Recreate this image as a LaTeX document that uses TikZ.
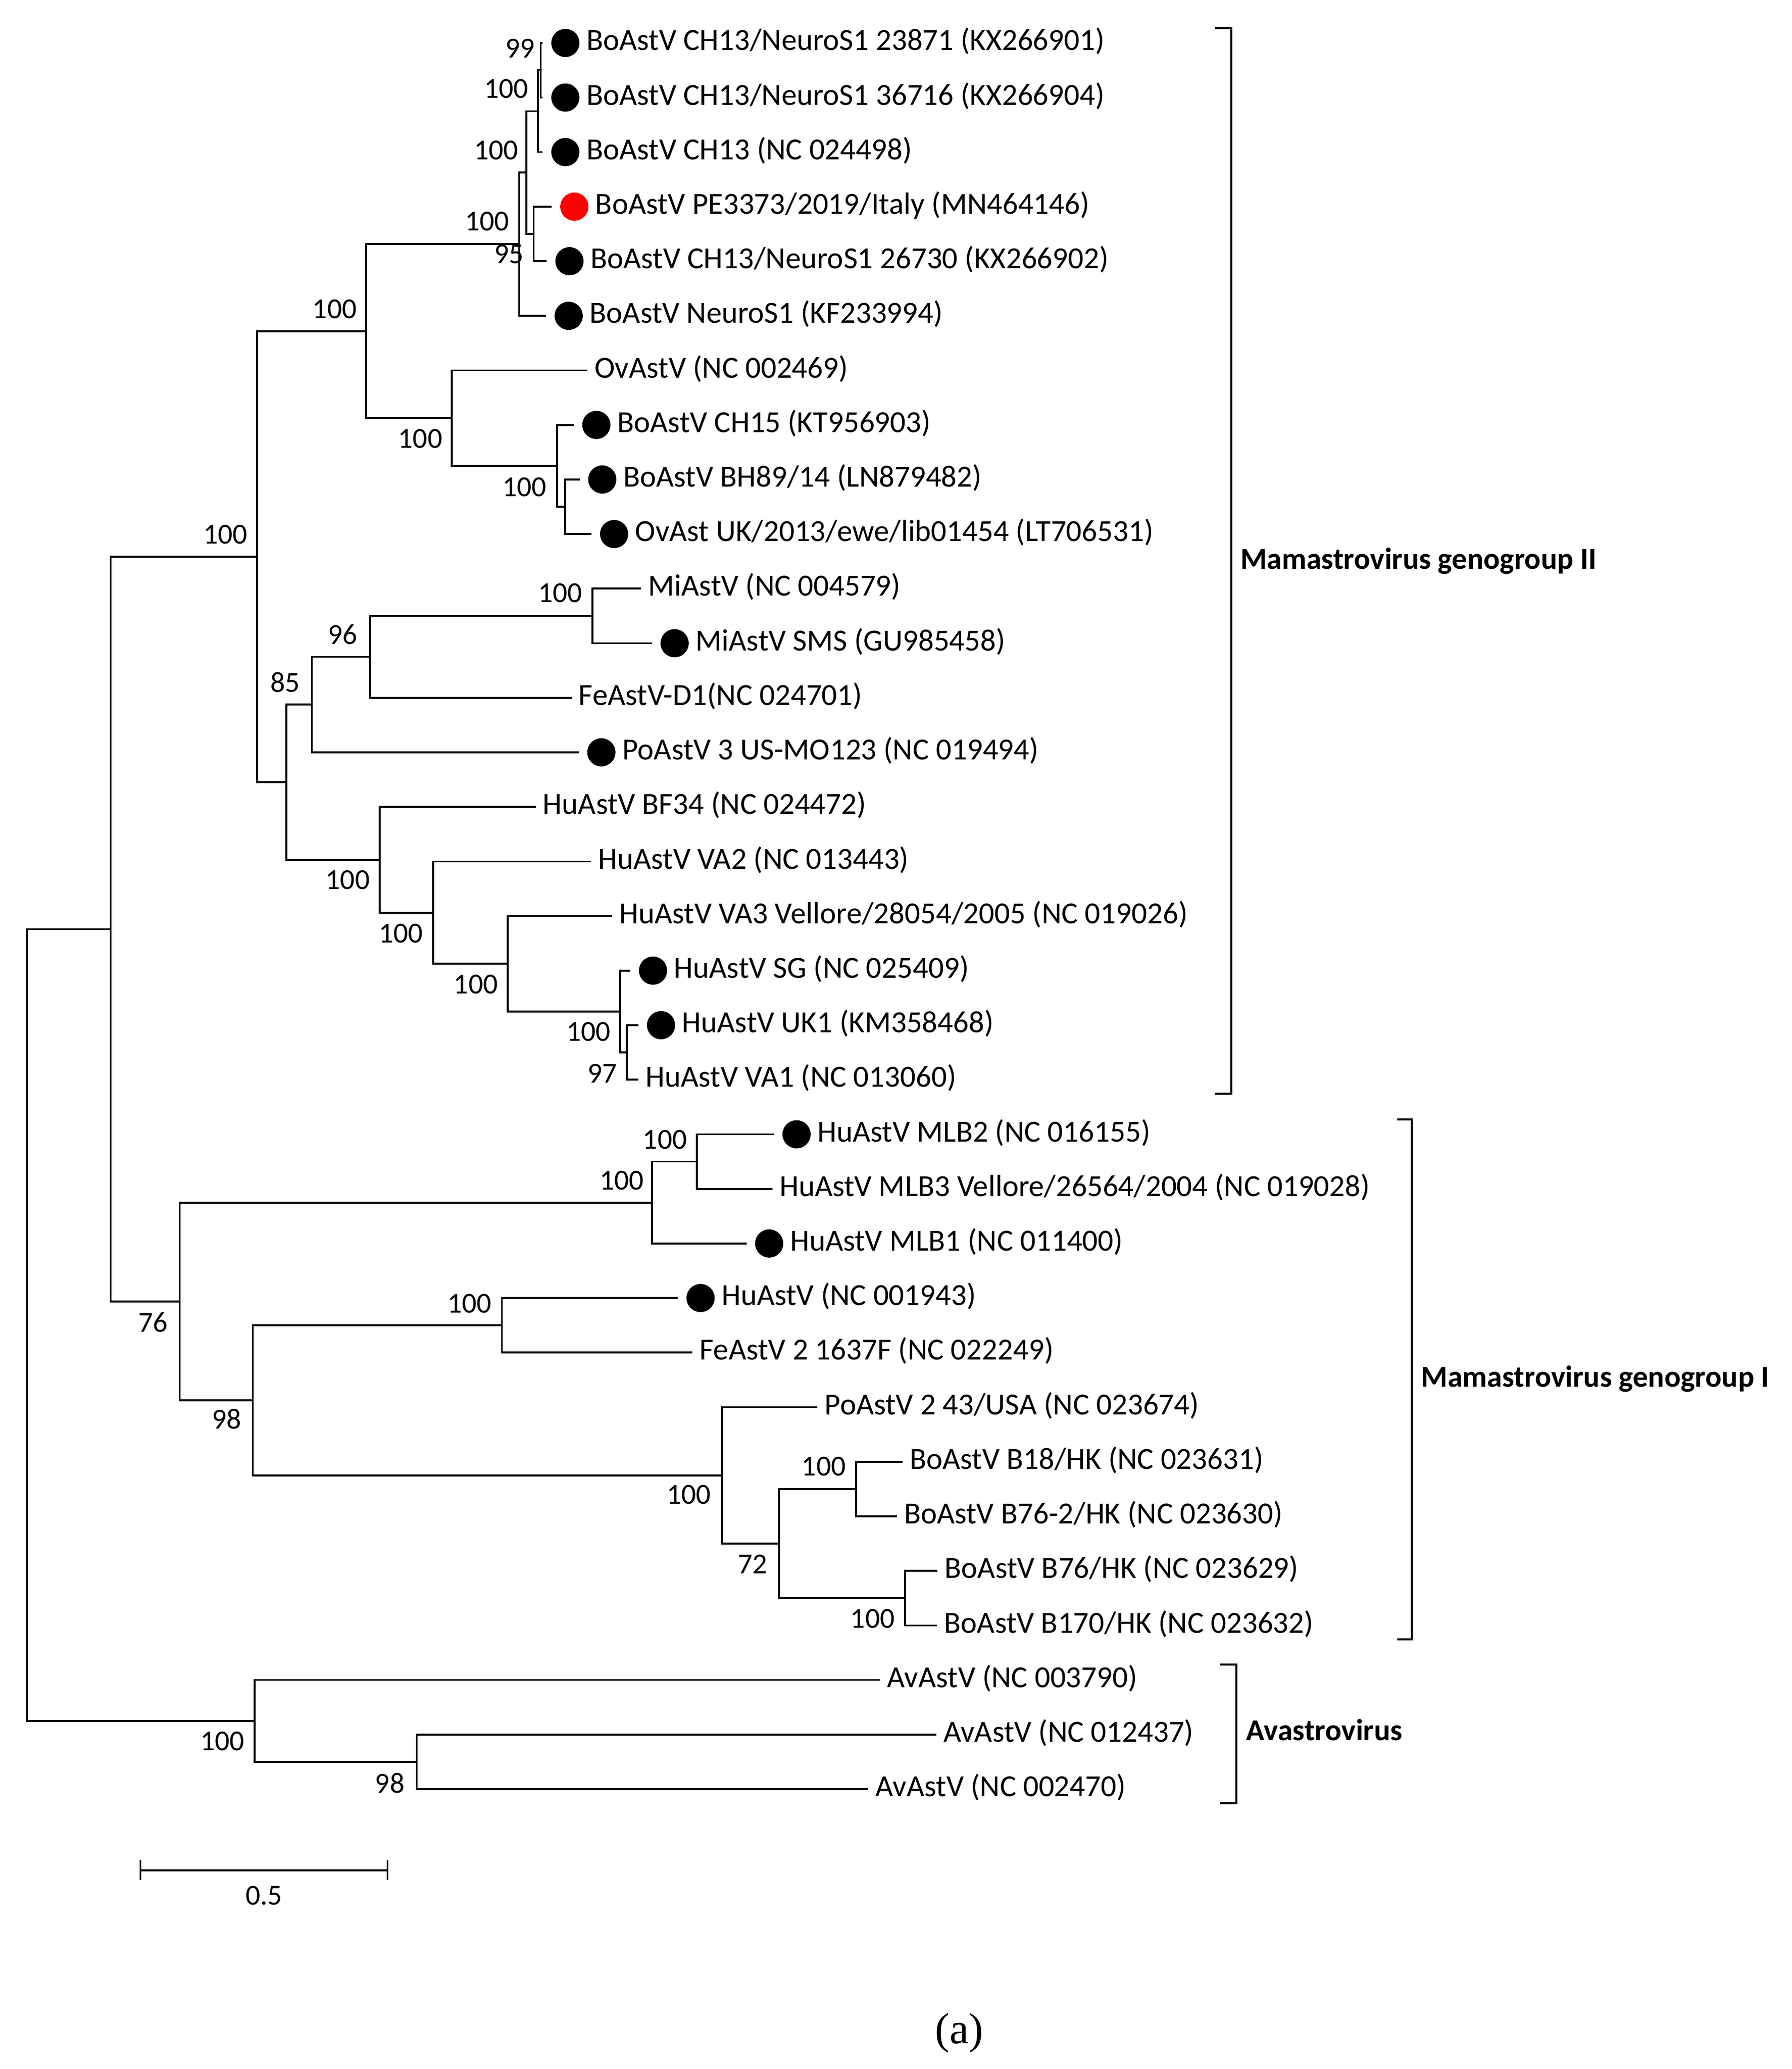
\documentclass[tikz,border=0pt]{standalone}
\usepackage{fontspec}
\setmainfont{Carlito}
\newfontfamily\capfont{Liberation Serif}

\begin{document}
\begin{tikzpicture}[x=1pt, y=-41.42pt, line width=1.4pt,
  taxon/.style={anchor=west, inner xsep=5.5pt, inner ysep=0pt, outer sep=0pt,
    text height=15pt, text depth=3.8pt, font=\fontsize{23.3}{27}\selectfont},
  boot/.style={inner sep=0pt, font=\fontsize{22}{26}\selectfont},
  dot/.style={circle, fill=black, minimum size=21.4pt, inner sep=0pt, outer sep=6.5pt},
  group/.style={anchor=base west, inner sep=0pt, font=\fontsize{23}{27}\selectfont\bfseries}]
  \useasboundingbox (0,0.2129) rectangle (1360,38.129);

  % taxa, top to bottom
  \node[dot] (D1) at (429.2,1) {};
  \node[taxon] (T1) at (439.7,1) {BoAstV CH13/NeuroS1 23871 (KX266901)};
  \node[dot] (D2) at (429.2,2) {};
  \node[taxon] (T2) at (439.7,2) {BoAstV CH13/NeuroS1 36716 (KX266904)};
  \node[dot] (D3) at (429.2,3) {};
  \node[taxon] (T3) at (439.7,3) {BoAstV CH13 (NC 024498)};
  \node[dot, fill=red] (D4) at (436,4) {};
  \node[taxon] (T4) at (446.5,4) {BoAstV PE3373/2019/Italy (MN464146)};
  \node[dot] (D5) at (432.3,5) {};
  \node[taxon] (T5) at (442.8,5) {BoAstV CH13/NeuroS1 26730 (KX266902)};
  \node[dot] (D6) at (431.7,6) {};
  \node[taxon] (T6) at (442.2,6) {BoAstV NeuroS1 (KF233994)};
  \node[taxon] (T7) at (446,7) {OvAstV (NC 002469)};
  \node[dot] (D8) at (452.7,8) {};
  \node[taxon] (T8) at (463.2,8) {BoAstV CH15 (KT956903)};
  \node[dot] (D9) at (457.2,9) {};
  \node[taxon] (T9) at (467.7,9) {BoAstV BH89/14 (LN879482)};
  \node[dot] (D10) at (466.2,10) {};
  \node[taxon] (T10) at (476.7,10) {OvAst UK/2013/ewe/lib01454 (LT706531)};
  \node[taxon] (T11) at (486.6,11) {MiAstV (NC 004579)};
  \node[dot] (D12) at (512.1,12) {};
  \node[taxon] (T12) at (522.6,12) {MiAstV SMS (GU985458)};
  \node[taxon] (T13) at (433.9,13) {FeAstV-D1(NC 024701)};
  \node[dot] (D14) at (456.5,14) {};
  \node[taxon] (T14) at (467,14) {PoAstV 3 US-MO123 (NC 019494)};
  \node[taxon] (T15) at (406.7,15) {HuAstV BF34 (NC 024472)};
  \node[taxon] (T16) at (448.6,16) {HuAstV VA2 (NC 013443)};
  \node[taxon] (T17) at (464.7,17) {HuAstV VA3 Vellore/28054/2005 (NC 019026)};
  \node[dot] (D18) at (495.7,18) {};
  \node[taxon] (T18) at (506.2,18) {HuAstV SG (NC 025409)};
  \node[dot] (D19) at (501.8,19) {};
  \node[taxon] (T19) at (512.3,19) {HuAstV UK1 (KM358468)};
  \node[taxon] (T20) at (484.6,20) {HuAstV VA1 (NC 013060)};
  \node[dot] (D21) at (604.7,21) {};
  \node[taxon] (T21) at (615.2,21) {HuAstV MLB2 (NC 016155)};
  \node[taxon] (T22) at (586.3,22) {HuAstV MLB3 Vellore/26564/2004 (NC 019028)};
  \node[dot] (D23) at (583.9,23) {};
  \node[taxon] (T23) at (594.4,23) {HuAstV MLB1 (NC 011400)};
  \node[dot] (D24) at (531.8,24) {};
  \node[taxon] (T24) at (542.3,24) {HuAstV (NC 001943)};
  \node[taxon] (T25) at (525.7,25) {FeAstV 2 1637F (NC 022249)};
  \node[taxon] (T26) at (620.6,26) {PoAstV 2 43/USA (NC 023674)};
  \node[taxon] (T27) at (685.1,27) {BoAstV B18/HK (NC 023631)};
  \node[taxon] (T28) at (680.8,28) {BoAstV B76-2/HK (NC 023630)};
  \node[taxon] (T29) at (711.7,29) {BoAstV B76/HK (NC 023629)};
  \node[taxon] (T30) at (711.3,30) {BoAstV B170/HK (NC 023632)};
  \node[taxon] (T31) at (668,31) {AvAstV (NC 003790)};
  \node[taxon] (T32) at (710.7,32) {AvAstV (NC 012437)};
  \node[taxon] (T33) at (659.2,33) {AvAstV (NC 002470)};

  % inner nodes of the tree
  \coordinate (N1) at (410.5,1.5);
  \coordinate (N2) at (408.5,2.25);
  \coordinate (N3) at (405.2,4.5);
  \coordinate (N4) at (399.5,3.375);
  \coordinate (N5) at (394.1,4.6875);
  \coordinate (N6) at (429.1,9.5);
  \coordinate (N7) at (423,8.75);
  \coordinate (N8) at (343,7.875);
  \coordinate (N9) at (278,6.28125);
  \coordinate (N10) at (449.8,11.5);
  \coordinate (N11) at (281,12.25);
  \coordinate (N12) at (236.8,13.125);
  \coordinate (N13) at (475.7,19.5);
  \coordinate (N14) at (470.9,18.75);
  \coordinate (N15) at (385.5,17.875);
  \coordinate (N16) at (328.8,16.9375);
  \coordinate (N17) at (288.1,15.96875);
  \coordinate (N18) at (217.5,14.546875);
  \coordinate (N19) at (195.2,10.4140625);
  \coordinate (N20) at (529,21.5);
  \coordinate (N21) at (495,22.25);
  \coordinate (N22) at (381,24.5);
  \coordinate (N23) at (650,27.5);
  \coordinate (N24) at (687,29.5);
  \coordinate (N25) at (591.3,28.5);
  \coordinate (N26) at (548,27.25);
  \coordinate (N27) at (192,25.875);
  \coordinate (N28) at (136.4,24.0625);
  \coordinate (N29) at (84,17.23828);
  \coordinate (N30) at (316.4,32.5);
  \coordinate (N31) at (193.4,31.75);
  \coordinate (N0) at (20.5,24.494);

  % branches
  \draw (N1) |- (D1) (N1) |- (D2);
  \draw (N2) |- (N1) (N2) |- (D3);
  \draw (N3) |- (D4) (N3) |- (D5);
  \draw (N4) |- (N2) (N4) |- (N3);
  \draw (N5) |- (N4) (N5) |- (D6);
  \draw (N6) |- (D9) (N6) |- (D10);
  \draw (N7) |- (D8) (N7) |- (N6);
  \draw (N8) |- (T7) (N8) |- (N7);
  \draw (N9) |- (N5) (N9) |- (N8);
  \draw (N10) |- (T11) (N10) |- (D12);
  \draw (N11) |- (N10) (N11) |- (T13);
  \draw (N12) |- (N11) (N12) |- (D14);
  \draw (N13) |- (D19) (N13) |- (T20);
  \draw (N14) |- (D18) (N14) |- (N13);
  \draw (N15) |- (T17) (N15) |- (N14);
  \draw (N16) |- (T16) (N16) |- (N15);
  \draw (N17) |- (T15) (N17) |- (N16);
  \draw (N18) |- (N12) (N18) |- (N17);
  \draw (N19) |- (N9) (N19) |- (N18);
  \draw (N20) |- (D21) (N20) |- (T22);
  \draw (N21) |- (N20) (N21) |- (D23);
  \draw (N22) |- (D24) (N22) |- (T25);
  \draw (N23) |- (T27) (N23) |- (T28);
  \draw (N24) |- (T29) (N24) |- (T30);
  \draw (N25) |- (N23) (N25) |- (N24);
  \draw (N26) |- (T26) (N26) |- (N25);
  \draw (N27) |- (N22) (N27) |- (N26);
  \draw (N28) |- (N21) (N28) |- (N27);
  \draw (N29) |- (N19) (N29) |- (N28);
  \draw (N30) |- (T32) (N30) |- (T33);
  \draw (N31) |- (T31) (N31) |- (N30);
  \draw (N0) |- (N29) (N0) |- (N31);

  % bootstrap values
  \node[boot] (B1) at (394.9,1.099) {99};
  \node[boot] (B2) at (384.2,1.838) {100};
  \node[boot] (B3) at (376.7,2.965) {100};
  \node[boot] (B4) at (369.8,4.269) {100};
  \node[boot] (B5) at (386.4,4.873) {95};
  \node[boot] (B6) at (254,5.882) {100};
  \node[boot] (B7) at (319,8.253) {100};
  \node[boot] (B8) at (398,9.136) {100};
  \node[boot] (B9) at (171,10.005) {100};
  \node[boot] (B10) at (425.3,11.082) {100};
  \node[boot] (B11) at (260,11.845) {96};
  \node[boot] (B12) at (216.5,12.719) {85};
  \node[boot] (B13) at (263.9,16.34) {100};
  \node[boot] (B14) at (304.2,17.316) {100};
  \node[boot] (B15) at (361.2,18.25) {100};
  \node[boot] (B16) at (446.7,19.122) {100};
  \node[boot] (B17) at (457.3,19.883) {97};
  \node[boot] (B18) at (504.7,21.10) {100};
  \node[boot] (B19) at (472,21.846) {100};
  \node[boot] (B20) at (116.2,24.45) {76};
  \node[boot] (B21) at (356.5,24.1) {100};
  \node[boot] (B22) at (172,26.215) {98};
  \node[boot] (B23) at (523,27.605) {100};
  \node[boot] (B24) at (625.3,27.085) {100};
  \node[boot] (B25) at (571.4,28.88) {72};
  \node[boot] (B26) at (662.4,29.875) {100};
  \node[boot] (B27) at (168.7,32.12) {100};
  \node[boot] (B28) at (295.9,32.89) {98};

  % groups
  \draw (922.6,0.73) -- (934.8,0.73) -- (934.8,20.256) -- (922.6,20.256);
  \node[group] (G1) at (940.9,10.643) {Mamastrovirus genogroup II};
  \draw (1060.5,20.725) -- (1071.8,20.725) -- (1071.8,30.257) -- (1060.5,30.257);
  \node[group] (G2) at (1078.2,25.63) {Mamastrovirus genogroup I};
  \draw (926.3,30.716) -- (938.5,30.716) -- (938.5,33.26) -- (926.3,33.26);
  \node[group] (G3) at (945.3,32.11) {Avastrovirus};

  % scale bar
  \draw (106.6,34.30) -- (106.6,34.66) (106.6,34.486) -- (294.1,34.486) (294.1,34.30) -- (294.1,34.66);
  \node[boot] (S1) at (200.4,34.95) {0.5};

  \node[inner sep=0pt, font=\capfont\fontsize{33}{38}\selectfont] (C1) at (728.3,37.47) {(a)};
\end{tikzpicture}
\end{document}
